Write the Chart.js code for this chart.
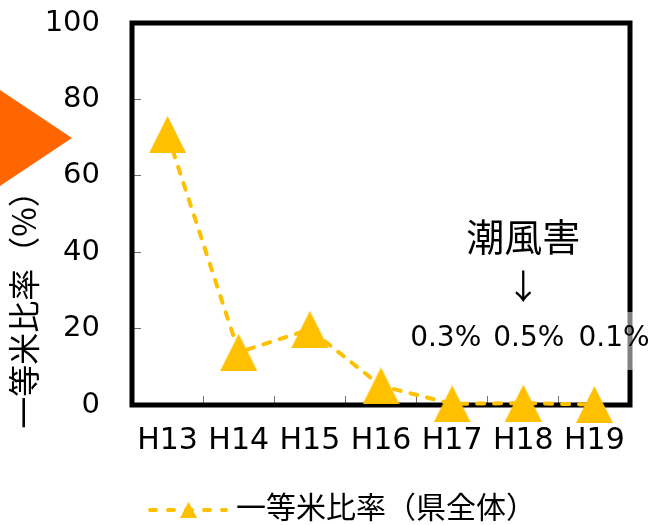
<!DOCTYPE html>
<html>
<head>
<meta charset="utf-8">
<script src="https://cdn.jsdelivr.net/npm/chart.js@4/dist/chart.umd.min.js"></script>
<style>
  html, body { margin: 0; padding: 0; background: #fff; }
  #wrap { width: 652px; height: 525px; }
</style>
</head>
<body>
<div id="wrap"><canvas id="c" width="652" height="525"></canvas></div>
<script>
// Years (Heisei) and first-grade rice ratio for the whole prefecture, in %
const categories = ['H13', 'H14', 'H15', 'H16', 'H17', 'H18', 'H19'];
const ratioValues = [70.8, 13.8, 19.8, 5.0, 0.3, 0.5, 0.1];
const yTicks = [0, 20, 40, 60, 80, 100];

const seriesName = '一等米比率（県全体）';
const yTitle = '一等米比率（%）';
const noteTitle = '潮風害';
const noteArrow = '↓';
const noteIndexes = [4, 5, 6];           // years hit by salt-wind damage
const noteOffsets = [-42, -30, -16];     // left edge of each value label vs. its category

const FONT = "'DejaVu Sans', 'Noto Sans CJK JP', sans-serif";
const CJK = "'Noto Sans CJK JP', sans-serif";
const GOLD = '#FFC000';
const ORANGE = '#FF6600';

// Upward triangle marker, centred on its bounding box
function triangleImage(w, h, color) {
  const cv = document.createElement('canvas');
  cv.width = w; cv.height = h;
  const g = cv.getContext('2d');
  g.fillStyle = color;
  g.beginPath();
  g.moveTo(w / 2, 0);
  g.lineTo(w, h);
  g.lineTo(0, h);
  g.closePath();
  g.fill();
  return cv;
}
const marker = triangleImage(37, 37, GOLD);

// Thick black box around the plot area, drawn under the markers
const framePlugin = {
  id: 'frame',
  beforeDatasetsDraw(chart) {
    const { ctx, chartArea: a } = chart;
    ctx.save();
    ctx.strokeStyle = '#000';
    ctx.lineWidth = 5;
    ctx.lineJoin = 'miter';
    ctx.strokeRect(a.left, a.top, a.right - a.left, a.bottom - a.top);
    ctx.restore();
  }
};

// Axis title, note, legend and the orange pointer
const extrasPlugin = {
  id: 'extras',
  afterDraw(chart) {
    const { ctx } = chart;
    const xs = chart.scales.x;
    ctx.save();

    // orange pointer on the left edge
    ctx.fillStyle = ORANGE;
    ctx.beginPath();
    ctx.moveTo(0, 90);
    ctx.lineTo(72, 138);
    ctx.lineTo(0, 186);
    ctx.closePath();
    ctx.fill();

    // vertical axis title
    ctx.fillStyle = '#000';
    ctx.save();
    ctx.translate(24, 302);
    ctx.rotate(-Math.PI / 2);
    ctx.font = '32px ' + CJK;
    ctx.textAlign = 'center';
    ctx.textBaseline = 'middle';
    ctx.fillText(yTitle, 0, 0);
    ctx.restore();

    // salt-wind damage note
    const mid = xs.getPixelForValue(noteIndexes[1]);
    ctx.textAlign = 'center';
    ctx.textBaseline = 'middle';
    ctx.font = '38px ' + CJK;
    ctx.fillText(noteTitle, mid, 237);
    ctx.font = '34px ' + CJK;
    ctx.fillText(noteArrow, mid, 286);

    // translucent label box over the right border
    ctx.fillStyle = 'rgba(255,255,255,0.5)';
    ctx.fillRect(405, 312, 247, 58);

    ctx.fillStyle = '#000';
    ctx.font = '28px ' + FONT;
    ctx.textAlign = 'left';
    noteIndexes.forEach((idx, k) => {
      const txt = ratioValues[idx].toFixed(1) + '%';
      ctx.fillText(txt, xs.getPixelForValue(idx) + noteOffsets[k], 339);
    });

    // legend: dashed gold line with a small triangle, then the series name
    const ly = 510;
    ctx.strokeStyle = GOLD;
    ctx.lineWidth = 4;
    ctx.lineCap = 'round';
    ctx.setLineDash([6, 12]);
    ctx.beginPath();
    ctx.moveTo(150, ly);
    ctx.lineTo(226, ly);
    ctx.stroke();
    ctx.setLineDash([]);
    ctx.fillStyle = GOLD;
    ctx.beginPath();
    ctx.moveTo(188.5, ly - 8);
    ctx.lineTo(197, ly + 8);
    ctx.lineTo(180, ly + 8);
    ctx.closePath();
    ctx.fill();

    ctx.fillStyle = '#000';
    ctx.font = '30px ' + CJK;
    ctx.textAlign = 'left';
    ctx.textBaseline = 'middle';
    ctx.fillText(seriesName, 236, 507);

    ctx.restore();
  }
};

new Chart(document.getElementById('c'), {
  type: 'line',
  data: {
    labels: categories,
    datasets: [{
      label: seriesName,
      data: ratioValues,
      borderColor: GOLD,
      backgroundColor: GOLD,
      borderWidth: 4,
      borderDash: [7, 10],
      borderCapStyle: 'round',
      pointStyle: marker,
      pointRadius: 18,
      pointHoverRadius: 18,
      fill: false,
      tension: 0,
      clip: false
    }]
  },
  options: {
    responsive: false,
    animation: false,
    devicePixelRatio: 1,
    layout: { padding: { top: 23, right: 22, left: 0, bottom: 0 } },
    plugins: {
      legend: { display: false },
      tooltip: { enabled: false }
    },
    scales: {
      x: {
        offset: true,
        grid: {
          offset: true,
          drawOnChartArea: false,
          drawTicks: true,
          tickLength: -9,
          color: '#707070',
          lineWidth: 1
        },
        border: { display: false },
        ticks: {
          color: '#000',
          font: { family: FONT, size: 30 },
          padding: 27,
          maxRotation: 0,
          autoSkip: false
        },
        afterFit(s) { s.height = 120; s.paddingLeft = 0; s.paddingRight = 0; }
      },
      y: {
        min: 0,
        max: 100,
        afterBuildTicks(s) { s.ticks = yTicks.map(v => ({ value: v })); },
        grid: {
          drawOnChartArea: false,
          drawTicks: true,
          tickLength: -9,
          color: '#707070',
          lineWidth: 1
        },
        border: { display: false },
        ticks: {
          color: '#000',
          font: { family: FONT, size: 29 },
          padding: 41
        },
        afterFit(s) { s.width = 132; s.paddingTop = 0; s.paddingBottom = 0; }
      }
    }
  },
  plugins: [framePlugin, extrasPlugin]
});
</script>
</body>
</html>
